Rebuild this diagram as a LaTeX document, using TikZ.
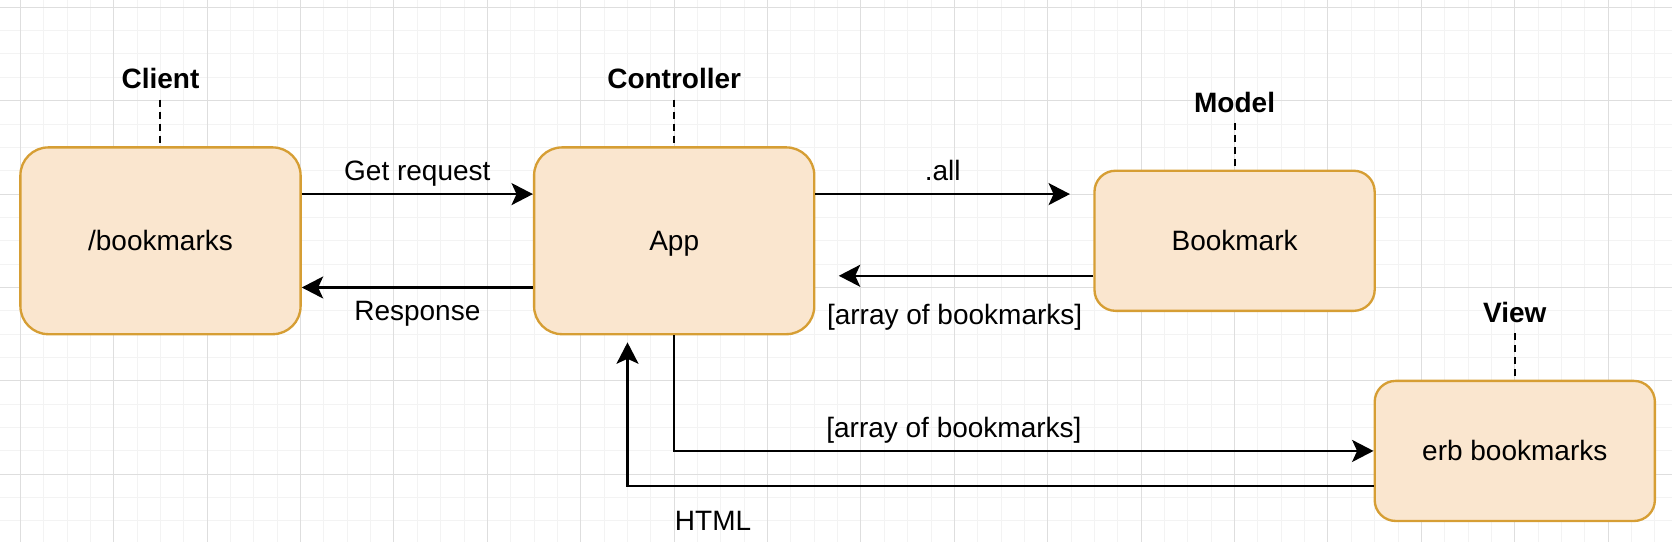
\documentclass[tikz,border=0pt]{standalone}
\usepackage{fontspec}
\setmainfont{Liberation Sans}
\usepackage{tikz}
\usetikzlibrary{arrows.meta}
\usetikzlibrary{positioning}
\usetikzlibrary{backgrounds}
\definecolor{boxfill}{RGB}{250,230,207}
\definecolor{boxline}{RGB}{214,158,52}
\definecolor{gridmajor}{RGB}{222,222,222}
\definecolor{gridminor}{RGB}{243,243,243}

\begin{document}
\begin{tikzpicture}[x=11.675pt, y=-11.675pt,
                font=\fontsize{14}{17}\selectfont,
                node distance=23.35pt,
                block/.style={rectangle, draw=boxline, fill=boxfill, line width=1.17pt, minimum width=140.1pt, inner sep=0pt, text height=10pt, text depth=0pt},
                tall/.style={minimum height=93.4pt, rounded corners=14pt},
                flat/.style={minimum height=70.05pt, rounded corners=10.5pt},
                role/.style={font=\fontsize{14}{17}\selectfont\bfseries, minimum height=23.35pt, inner sep=0pt, text height=10pt, text depth=0pt, yshift=-1.5pt},
                link/.style={draw, line width=1pt, dash pattern=on 3.5pt off 2.5pt},
                arrow/.style={draw, line width=1.17pt, -{Stealth[length=10.7pt, width=11pt, inset=2.5pt]}},
                tag/.style={inner sep=0pt, text height=10pt, text depth=0pt},
            ]
            \useasboundingbox (-0.8737,-0.3126) rectangle (70.733,22.899);
            \begin{scope}[on background layer]
                \foreach \x in {0,...,70} \draw[gridminor, line width=0.5pt] (\x,-0.3126) -- (\x,22.899);
                \foreach \y in {0,...,22} \draw[gridminor, line width=0.5pt] (-0.8737,\y) -- (70.733,\y);
                \foreach \x in {0,4,...,68} \draw[gridmajor, line width=0.5pt] (\x,-0.3126) -- (\x,22.899);
                \foreach \y in {0,4,...,20} \draw[gridmajor, line width=0.5pt] (-0.8737,\y) -- (70.733,\y);
            \end{scope}
            \node[block, tall] (client) at (6,10) {/bookmarks};
            \node[block, tall] (app) at (28,10) {App};
            \node[block, flat] (bookmark) at (52,10) {Bookmark};
            \node[block, flat] (erb) at (64,19) {erb bookmarks};
            \node[role, above=of client] (clientrole) {Client};
            \node[role, above=of app] (approle) {Controller};
            \node[role, above=of bookmark] (modelrole) {Model};
            \node[role, above=of erb] (viewrole) {View};
            \path[link] (clientrole.south |- client.north) ++(0,-2) -- (client);
            \path[link] (approle.south |- app.north) ++(0,-2) -- (app);
            \path[link] (modelrole.south |- bookmark.north) ++(0,-2) -- (bookmark);
            \path[link] (viewrole.south |- erb.north) ++(0,-2) -- (erb);
            \coordinate (appin) at ([xshift=-23.35pt, yshift=-3.5pt]app.south);
            \path[arrow] ([yshift=23.35pt]client.east) -- node[tag, midway, yshift=11.675pt] {Get request} ([yshift=23.35pt]app.west);
            \path[arrow] ([yshift=-23.35pt]app.west) -- node[tag, midway, yshift=-11.675pt] {Response} ([yshift=-23.35pt]client.east);
            \path[arrow] ([yshift=23.35pt]app.east) -- node[tag, midway, yshift=11.675pt] {.all} ([yshift=23.35pt, xshift=-11.675pt]bookmark.west);
            \path[arrow] ([yshift=-17.5pt]bookmark.west) -- node[tag, pos=0.545, yshift=-19.5pt] {[array of bookmarks]} ([yshift=-17.5pt, xshift=11.675pt]app.east);
            \path[arrow] (app.south) |- node[tag, pos=0.7, yshift=11.675pt] {[array of bookmarks]} (erb.west);
            \path[arrow] ([yshift=-17.5pt]erb.west) -| node[tag, pos=0.469, anchor=west, yshift=-17.5pt] {HTML} (appin);
\end{tikzpicture}
\end{document}
